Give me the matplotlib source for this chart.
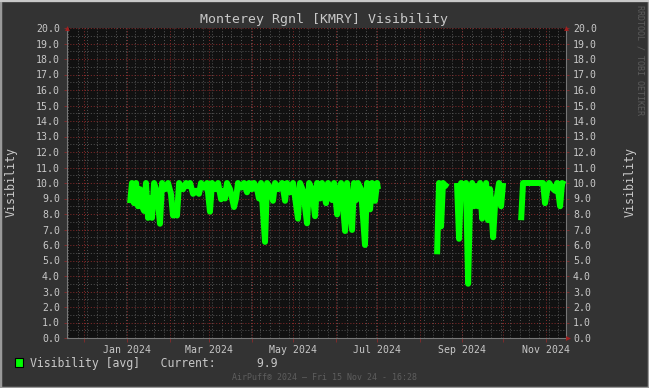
import matplotlib
matplotlib.use("Agg")
import matplotlib.pyplot as plt
import matplotlib.dates as mdates
import numpy as np
import datetime as dt

# ---- data (day offset from 2024-01-01, visibility in miles) ----
seg1_days = [2.2, 3.6, 5.1, 6.6, 8.0, 9.5, 10.9, 12.4, 13.8, 15.3,
             16.8, 18.2, 19.7, 21.8, 24.0, 25.5, 27.7, 29.9, 32.0, 33.5,
             35.0, 36.4, 37.9, 40.8, 43.0, 44.4, 45.9, 48.1, 50.3, 52.4,
             53.9, 56.1, 58.3, 60.4, 61.9, 64.8, 66.3, 68.5, 69.9, 71.4,
             72.8, 75.0, 77.9, 79.4, 80.8, 83.0, 85.2, 87.4, 88.9, 91.0,
             92.5, 94.7, 96.1, 97.6, 100.5, 102.0, 104.2, 106.3, 107.8, 110.0,
             112.9, 115.1, 116.5, 118.7, 120.9, 124.5, 126.0, 128.2, 131.1, 132.6,
             134.7, 136.9, 138.4, 140.6, 142.0, 144.9, 146.4, 149.3, 150.8, 153.0,
             154.4, 155.9, 158.8, 160.2, 163.9, 165.3, 166.8, 168.2, 170.4, 173.3,
             174.8, 177.0, 178.4, 180.6, 182.1, 182.8]
seg1_vals = [8.7, 10.0, 8.7, 10.0, 8.5, 9.6, 8.5, 8.2, 10.0, 7.75,
             9.0, 7.75, 10.0, 9.4, 7.37, 10.0, 9.6, 10.0, 9.3, 7.9,
             8.5, 7.9, 10.0, 9.6, 10.0, 9.8, 10.0, 9.3, 9.5, 9.3,
             10.0, 9.7, 10.0, 8.15, 10.0, 9.6, 10.0, 8.95, 9.5, 9.0,
             10.0, 9.6, 8.45, 9.0, 10.0, 9.7, 10.0, 9.4, 10.0, 9.6,
             10.0, 9.6, 9.0, 10.0, 6.2, 10.0, 9.7, 8.85, 10.0, 9.6,
             10.0, 8.85, 10.0, 9.4, 10.0, 7.7, 10.0, 9.5, 7.4, 10.0,
             9.6, 7.86, 10.0, 9.0, 10.0, 8.7, 10.0, 8.9, 10.0, 7.97,
             9.5, 10.0, 6.9, 10.0, 6.97, 10.0, 8.9, 10.0, 9.6, 6.0,
             10.0, 8.3, 10.0, 8.85, 10.0, 9.6]

seg2_days = [225.8, 227.2, 228.7, 230.1, 231.6, 233.1, 236.5,
             240.3, 241.8, 243.3, 244.7, 246.9, 248.4, 249.8, 251.3, 252.7, 254.2,
             255.6, 257.1, 258.6, 260.0, 261.5, 262.9, 264.4, 266.6, 268.0, 269.5,
             270.9, 272.4, 273.9]
seg2_vals = [5.4, 10.0, 7.2, 10.0, 9.8, 10.0, np.nan,
             10.0, 6.4, 10.0, 9.2, 10.0, 3.5, 8.8, 10.0, 8.5, 9.8,
             8.5, 10.0, 7.7, 8.6, 10.0, 7.6, 9.6, 6.5, 8.6, 9.2,
             10.0, 8.5, 10.0]

seg3_days = [287.0, 288.4, 303.0, 304.4, 305.9, 307.4, 309.5, 311.7, 313.2, 315.4,
             316.8, 319.0]
seg3_vals = [7.6, 10.0, 10.0, 8.7, 9.5, 10.0, 9.7, 9.5, 10.0, 8.5, 10.0, 9.9]

y_ticks = [float(v) for v in range(0, 21)]
month_labels = ["Jan 2024", "Mar 2024", "May 2024", "Jul 2024", "Sep 2024", "Nov 2024"]
title = "Monterey Rgnl [KMRY] Visibility"
legend_text = "Visibility [avg]   Current:      9.9"
footer = "AirPuff\u00ae 2024 \u2014 Fri 15 Nov 24 - 16:28"

# ---- styling ----
BG = "#333333"
PLOT_BG = "#111111"
TXT = "#c8c8c8"
RED = "#8a2a2a"
GRAY = "#555555"
GREEN = "#00ff00"
MONO = ["DejaVu Sans Mono"]

base = dt.datetime(2024, 1, 1)
def to_dates(days):
    return [base + dt.timedelta(days=d) for d in days]

fig = plt.figure(figsize=(6.49, 3.88), dpi=100, facecolor=BG)
ax = fig.add_axes([67 / 649, 50 / 388, 499 / 649, 310 / 388], facecolor=PLOT_BG)

end = dt.datetime(2024, 11, 15, 16, 28)
start = end - dt.timedelta(days=363.4)
ax.set_xlim(start, end)
ax.set_ylim(0, 20)

# grid: minor
for v in np.arange(0.5, 20, 1.0):
    ax.axhline(v, color=GRAY, lw=0.7, ls=(0, (1, 2)), zorder=1)
week = dt.datetime(2023, 11, 19)
while week < end:
    ax.axvline(week, color=GRAY, lw=0.7, ls=(0, (1, 2)), zorder=1)
    week += dt.timedelta(days=7)
# grid: major
for v in y_ticks[1:]:
    ax.axhline(v, color=RED, lw=0.7, ls=(0, (1, 2)), zorder=2)
m = dt.datetime(2023, 12, 1)
while m < end:
    ax.axvline(m, color=RED, lw=0.7, ls=(0, (1, 2)), zorder=2)
    m = dt.datetime(m.year + (m.month // 12), m.month % 12 + 1, 1)

# data
for d, v in ((seg1_days, seg1_vals), (seg2_days, seg2_vals), (seg3_days, seg3_vals)):
    ax.plot(to_dates(d), v, color=GREEN, lw=4.3, solid_joinstyle="round",
            solid_capstyle="butt", zorder=5)

for s in ax.spines.values():
    s.set_visible(False)

# ticks
ax.set_yticks(y_ticks)
ax.set_yticklabels([f"{v:.1f}" for v in y_ticks])
ax.tick_params(axis="y", which="both", left=True, right=True, labelleft=True, labelright=True,
               length=2, width=0.6, color=RED, labelsize=7.1, labelcolor=TXT, pad=3)
for lab in ax.get_yticklabels():
    lab.set_family(MONO)
label_dates = [dt.datetime(2024, mm, 1) for mm in (1, 3, 5, 7, 9, 11)]
ax.set_xticks(label_dates)
ax.set_xticklabels(month_labels)
ax.xaxis.set_minor_locator(mdates.MonthLocator())
ax.tick_params(axis="x", which="both", bottom=True, length=3, width=0.6, color=RED,
               labelsize=7.1, labelcolor=TXT, pad=2)
for lab in ax.get_xticklabels():
    lab.set_family(MONO)

# axis lines + arrows
for xs, ys in (([0, 1], [0, 0]), ([0, 0], [0, 1]), ([1, 1], [0, 1])):
    ax.plot(xs, ys, transform=ax.transAxes, color="#777777", lw=0.8, clip_on=False, zorder=6)
for (xa, ya, mk) in ((0, 1.0, "^"), (1, 1.0, "^"), (1.004, 0, ">")):
    ax.plot([xa], [ya], marker=mk, ms=3.5, color="#a02020", transform=ax.transAxes,
            clip_on=False, zorder=7, mec="none")

# texts
fig.text(324 / 649, 1 - 19 / 388, title, ha="center", va="center", color=TXT,
         fontsize=9.5, family=MONO)
fig.text(11 / 649, 1 - 182 / 388, "Visibility", rotation=90, ha="center", va="center",
         color=TXT, fontsize=8.4, family=MONO)
fig.text(630 / 649, 1 - 182 / 388, "Visibility", rotation=90, ha="center", va="center",
         color=TXT, fontsize=8.4, family=MONO)
fig.text(640 / 649, 1 - 60 / 388, "RRDTOOL / TOBI OETIKER", rotation=270, ha="center",
         va="center", color="#5c5c5c", fontsize=6.0, family=MONO)
fig.patches.append(plt.Rectangle((15 / 649, 1 - 367 / 388), 8 / 649, 9 / 388,
                                 transform=fig.transFigure, facecolor=GREEN,
                                 edgecolor="black", lw=0.8))
fig.text(30 / 649, 1 - 363 / 388, legend_text, ha="left", va="center", color=TXT,
         fontsize=8.3, family=MONO)
fig.text(324 / 649, 1 - 377 / 388, footer, ha="center", va="center", color="#5e5e5e",
         fontsize=5.95, family=MONO)

# outer frame
fig.patches.append(plt.Rectangle((0, 0), 1, 1, transform=fig.transFigure, fill=False,
                                 edgecolor="#9a9a9a", lw=2.5))
fig.patches.append(plt.Rectangle((0.0, 1 - 1.5 / 388), 1, 1.5 / 388, transform=fig.transFigure,
                                 facecolor="#c8c8c8", edgecolor="none"))

fig.savefig("out.png", dpi=100, facecolor=BG)
